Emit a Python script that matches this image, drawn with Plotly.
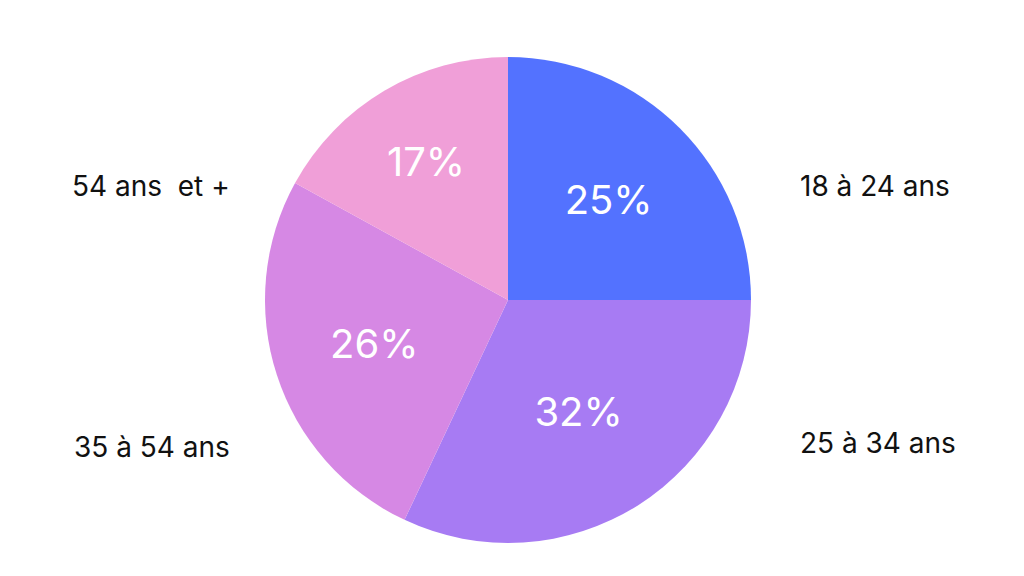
import plotly.graph_objects as go

categories = ["18 à 24 ans", "25 à 34 ans", "35 à 54 ans", "54 ans  et +"]
values = [25, 32, 26, 17]
colors = ["#5372FF", "#A77BF3", "#D688E4", "#F09FD8"]
label_pos = [(944, 159), (950, 454), (64, 458), (62, 159)]

W, H = 1024, 576
fig = go.Figure(go.Pie(
    labels=categories, values=values, sort=False, direction="clockwise", rotation=0,
    marker=dict(colors=colors), texttemplate="%{value}%", textposition="inside",
    insidetextorientation="horizontal",
    textfont=dict(color="white", size=40, family="Inter"),
    showlegend=False, hoverinfo="label+percent",
    domain=dict(x=[257 / W, 743 / W], y=[(H - 535) / H, (H - 49) / H]),
))
for c, (x, y) in zip(categories, label_pos):
    fig.add_annotation(x=x / W, y=1 - y / H, xref="paper", yref="paper", text=c,
                       showarrow=False, font=dict(size=28, color="#111", family="Inter"))
fig.update_layout(width=W, height=H, margin=dict(l=0, r=0, t=0, b=0),
                  paper_bgcolor="white", plot_bgcolor="white")
fig.write_html("out.html")
